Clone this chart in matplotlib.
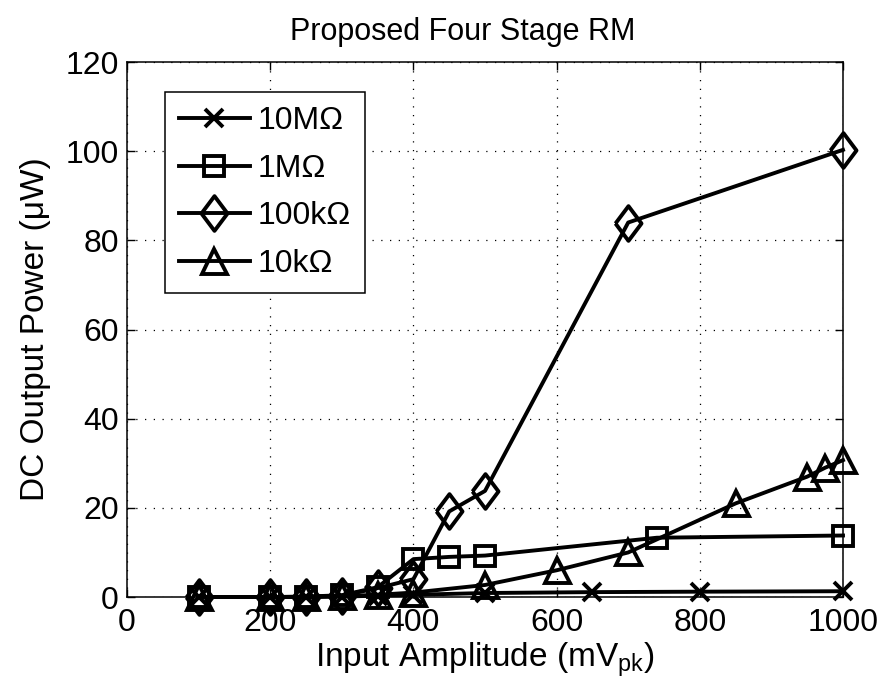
import matplotlib
matplotlib.use('Agg')
import matplotlib.pyplot as plt

plt.rcParams['font.family'] = ['Liberation Sans', 'DejaVu Sans']
plt.rcParams['mathtext.fontset'] = 'custom'
plt.rcParams['mathtext.rm'] = 'Liberation Sans'
plt.rcParams['mathtext.it'] = 'Liberation Sans'

# data
x_10M = [100, 200, 250, 300, 350, 400, 500, 650, 800, 1000]
y_10M = [0, 0, 0.05, 0.1, 0.3, 0.5, 0.9, 1.1, 1.2, 1.3]

x_1M = [100, 200, 250, 300, 350, 400, 450, 500, 740, 1000]
y_1M = [0, 0, 0.1, 0.4, 2.2, 8.5, 9.0, 9.3, 13.3, 13.8]

x_100k = [100, 200, 250, 300, 350, 400, 450, 500, 700, 1000]
y_100k = [0, 0, 0, 0.3, 2.0, 4.0, 19.2, 23.8, 84.0, 100.3]

x_10k = [100, 200, 250, 300, 350, 400, 500, 600, 700, 850, 950, 975, 1000]
y_10k = [0, 0, 0, 0.2, 0.5, 1.0, 2.7, 6.0, 10.0, 21.0, 27.0, 29.0, 30.7]

labels = ['10M\u03a9', '1M\u03a9', '100k\u03a9', '10k\u03a9']
xticks = [0, 200, 400, 600, 800, 1000]
yticks = [0, 20, 40, 60, 80, 100, 120]

diamond = [(-0.75, 0), (0, 1), (0.75, 0), (0, -1), (-0.75, 0)]

fig = plt.figure(figsize=(8.87, 6.96), dpi=100)
ax = fig.add_axes([0.1432, 0.1422, 0.8072, 0.7687])

lw = 2.8
ax.plot(x_10M, y_10M, color='k', lw=lw, marker='x', ms=13, mew=lw, label=labels[0], clip_on=False)
ax.plot(x_1M, y_1M, color='k', lw=lw, marker='s', ms=14, mew=lw, mfc='none', label=labels[1], clip_on=False)
ax.plot(x_100k, y_100k, color='k', lw=lw, marker=diamond, ms=25, mew=lw, mfc='none', label=labels[2], clip_on=False)
ax.plot(x_10k, y_10k, color='k', lw=lw, marker='^', ms=18, mew=lw, mfc='none', label=labels[3], clip_on=False)

ax.set_xlim(0, 1000)
ax.set_ylim(0, 120)
ax.set_xticks(xticks)
ax.set_yticks(yticks)
ax.tick_params(direction='in', length=6, width=1, top=True, right=True, labelsize=23)
ax.tick_params(axis='x', pad=8)
ax.tick_params(axis='y', pad=6)
ax.grid(True, linestyle=(0, (1, 6)), color='k', linewidth=0.9)
for s in ax.spines.values():
    s.set_linewidth(1.1)

ax.set_title('Proposed Four Stage RM', fontsize=22, pad=16, x=0.469)
ax.set_xlabel(r'Input Amplitude (mV$_{\mathrm{pk}}$)', fontsize=24, labelpad=2)
ax.set_ylabel('DC Output Power (\u03bcW)', fontsize=24, labelpad=10)

leg = ax.legend(loc='upper left', bbox_to_anchor=(0.053, 0.944), borderaxespad=0,
                fontsize=23, handlelength=2.2, handletextpad=0.25, labelspacing=0.55,
                borderpad=0.45, fancybox=False, framealpha=1, edgecolor='k')
leg.get_frame().set_linewidth(1.1)

fig.savefig('out.png', dpi=100)
